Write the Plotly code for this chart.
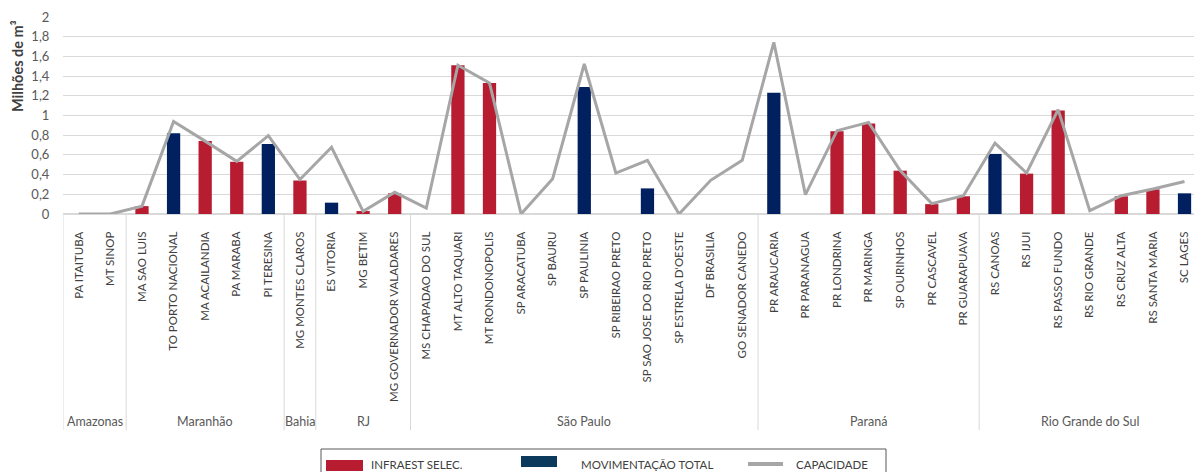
import plotly.graph_objects as go

categories = [
    "PA ITAITUBA", "MT SINOP", "MA SAO LUIS", "TO PORTO NACIONAL", "MA ACAILANDIA",
    "PA MARABA", "PI TERESINA", "MG MONTES CLAROS", "ES VITORIA", "MG BETIM",
    "MG GOVERNADOR VALADARES", "MS CHAPADAO DO SUL", "MT ALTO TAQUARI", "MT RONDONOPOLIS",
    "SP ARACATUBA", "SP BAURU", "SP PAULINIA", "SP RIBEIRAO PRETO", "SP SAO JOSE DO RIO PRETO",
    "SP ESTRELA D'OESTE", "DF BRASILIA", "GO SENADOR CANEDO", "PR ARAUCARIA", "PR PARANAGUA",
    "PR LONDRINA", "PR MARINGA", "SP OURINHOS", "PR CASCAVEL", "PR GUARAPUAVA",
    "RS CANOAS", "RS IJUI", "RS PASSO FUNDO", "RS RIO GRANDE", "RS CRUZ ALTA",
    "RS SANTA MARIA", "SC LAGES",
]

group_names = ["Amazonas", "Maranhão", "Bahia", "RJ", "São Paulo", "Paraná", "Rio Grande do Sul"]
group_sizes = [2, 5, 1, 3, 11, 7, 7]

infraest_selec = [
    None, None, 0.08, None, 0.74, 0.53, None, 0.34, None, 0.03,
    0.21, None, 1.51, 1.33, None, None, None, None, None, None,
    None, None, None, None, 0.84, 0.92, 0.44, 0.10, 0.18, None,
    0.41, 1.05, None, 0.18, 0.25, None,
]

movimentacao_total = [
    None, None, None, 0.82, None, None, 0.71, None, 0.115, None,
    None, None, None, None, None, None, 1.29, None, 0.26, None,
    None, None, 1.23, None, None, None, None, None, None, 0.61,
    None, None, None, None, None, 0.21,
]

capacidade = [
    0, 0, 0.08, 0.94, 0.74, 0.535, 0.795, 0.35, 0.677, 0.027,
    0.22, 0.061, 1.51, 1.33, 0, 0.359, 1.523, 0.416, 0.545, 0,
    0.342, 0.545, 1.743, 0.196, 0.846, 0.93, 0.44, 0.105, 0.186, 0.72,
    0.416, 1.06, 0.034, 0.186, 0.254, 0.33,
]

y_ticks = [0, 0.2, 0.4, 0.6, 0.8, 1, 1.2, 1.4, 1.6, 1.8, 2]

legend_labels = ["INFRAEST SELEC.", "MOVIMENTAÇÃO TOTAL", "CAPACIDADE"]

RED = "#B71C30"
NAVY = "#002060"
LEG_NAVY = "#0B3A5C"
GRAY = "#A6A6A6"
GRID = "#D9D9D9"
TXT = "#404040"
FONT = "Lato"

W, H = 1194, 472
ML, MR, MT, MB = 63, 0, 17, 258
PW, PH = W - ML - MR, H - MT - MB


def px(x):
    return (x - ML) / PW


def py(y):
    return (H - MB - y) / PH


fig = go.Figure()
fig.add_trace(go.Bar(x=categories, y=infraest_selec, name=legend_labels[0],
                     marker=dict(color=RED, line=dict(width=0)), width=0.42))
fig.add_trace(go.Bar(x=categories, y=movimentacao_total, name=legend_labels[1],
                     marker=dict(color=NAVY, line=dict(width=0)), width=0.42))
fig.add_trace(go.Scatter(x=categories, y=capacidade, name=legend_labels[2], mode="lines",
                         line=dict(color=GRAY, width=3)))

shapes = []
annotations = []

# group dividers and labels
start = 0
bounds = [-0.5]
for name, n in zip(group_names, group_sizes):
    center = start + (n - 1) / 2
    annotations.append(dict(x=center, y=py(421), xref="x", yref="paper", text=name,
                            showarrow=False, font=dict(family=FONT, size=12.5, color="#595959"),
                            xanchor="center", yanchor="middle"))
    start += n
    bounds.append(start - 0.5)
for b in bounds:
    shapes.append(dict(type="line", xref="x", yref="paper", x0=b, x1=b, y0=0, y1=py(430),
                       line=dict(color=GRID, width=1)))

# y axis title
annotations.append(dict(x=px(17), y=py(66), xref="paper", yref="paper", text="<b>Milhões de m³</b>",
                        showarrow=False, textangle=-90, font=dict(family=FONT, size=14.5, color=TXT),
                        xanchor="center", yanchor="middle"))

# manual legend
shapes.append(dict(type="rect", xref="paper", yref="paper", x0=px(321), x1=px(886), y0=py(449), y1=py(480),
                   line=dict(color="#595959", width=1), fillcolor="rgba(0,0,0,0)"))
shapes.append(dict(type="rect", xref="paper", yref="paper", x0=px(326), x1=px(363), y0=py(460), y1=py(471),
                   line=dict(width=0), fillcolor=RED))
shapes.append(dict(type="rect", xref="paper", yref="paper", x0=px(521), x1=px(557), y0=py(456), y1=py(467),
                   line=dict(width=0), fillcolor=LEG_NAVY))
shapes.append(dict(type="line", xref="paper", yref="paper", x0=px(748), x1=px(783), y0=py(464), y1=py(464),
                   line=dict(color=GRAY, width=4)))
for label, xp in zip(legend_labels, [369, 579, 794]):
    annotations.append(dict(x=px(xp), y=py(465), xref="paper", yref="paper", text=label,
                            showarrow=False, font=dict(family=FONT, size=11.5, color=TXT),
                            xanchor="left", yanchor="middle"))

fig.update_layout(
    width=W, height=H,
    margin=dict(l=ML, r=MR, t=MT, b=MB, pad=0),
    paper_bgcolor="white", plot_bgcolor="white",
    barmode="overlay",
    showlegend=False,
    separators=", ",
    font=dict(family=FONT, color=TXT),
    shapes=shapes,
    annotations=annotations,
    xaxis=dict(type="category", range=[-0.5, 35.3], tickangle=-90, showgrid=False,
               showline=False, zeroline=False, ticks="outside", ticklen=12,
               tickcolor="rgba(0,0,0,0)", tickfont=dict(family=FONT, size=11.5, color=TXT)),
    yaxis=dict(range=[0, 2], tickvals=y_ticks, showgrid=True, gridcolor=GRID, gridwidth=1,
               zeroline=True, zerolinecolor=GRID, showline=False, ticks="outside", ticklen=10,
               tickcolor="rgba(0,0,0,0)", tickfont=dict(family=FONT, size=13, color="#595959"),
               tickformat=",.1~f"),
)

fig.write_html("out.html", config={"displayModeBar": False},
               post_script="document.body.style.margin='0';document.body.style.padding='0';")
